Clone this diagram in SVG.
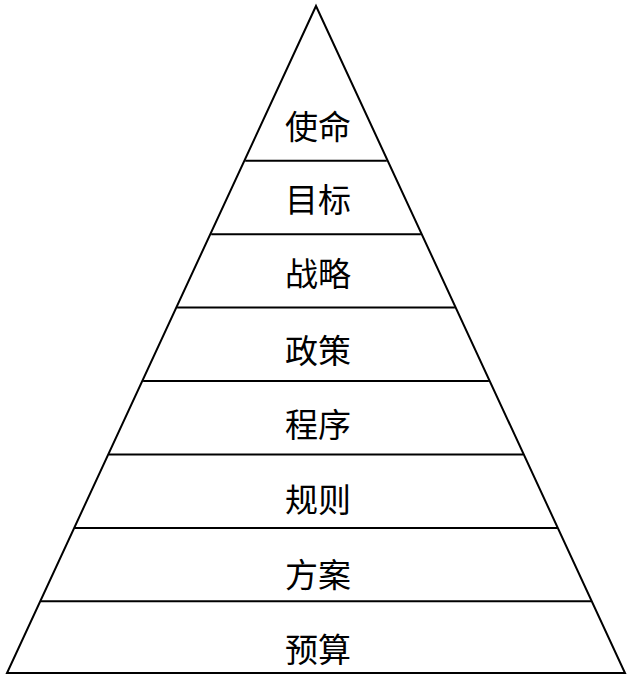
<svg xmlns="http://www.w3.org/2000/svg" width="631" height="680" viewBox="0 0 631 680">
<style>
.edge{fill:none;stroke:#000;stroke-width:2;stroke-linejoin:miter}
.lbl{font-family:"Noto Sans CJK SC","Noto Sans CJK JP",sans-serif;font-size:33px;fill:#000;text-anchor:middle;dominant-baseline:central}
</style>
<rect width="631" height="680" fill="#fff"/>
<g id="connectors">
<polygon class="edge" points="316,6 625,673 7,673"/>
<line class="edge" x1="245.2" y1="160.8" x2="386.8" y2="160.8"/>
<line class="edge" x1="211.2" y1="234.2" x2="420.9" y2="234.2"/>
<line class="edge" x1="177.1" y1="307.6" x2="454.9" y2="307.6"/>
<line class="edge" x1="143.1" y1="381" x2="488.9" y2="381"/>
<line class="edge" x1="109" y1="454.5" x2="523" y2="454.5"/>
<line class="edge" x1="75" y1="527.9" x2="557" y2="527.9"/>
<line class="edge" x1="41" y1="601.3" x2="591" y2="601.3"/>
</g>
<g id="n1"><text class="lbl" x="318" y="125">使命</text></g>
<g id="n2"><text class="lbl" x="318" y="198">目标</text></g>
<g id="n3"><text class="lbl" x="318" y="272">战略</text></g>
<g id="n4"><text class="lbl" x="318" y="349">政策</text></g>
<g id="n5"><text class="lbl" x="318" y="423">程序</text></g>
<g id="n6"><text class="lbl" x="318" y="497.5">规则</text></g>
<g id="n7"><text class="lbl" x="318" y="572.5">方案</text></g>
<g id="n8"><text class="lbl" x="318" y="647.5">预算</text></g>
</svg>
